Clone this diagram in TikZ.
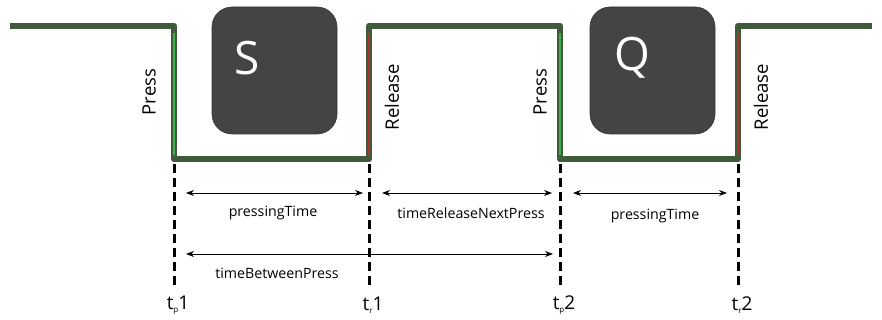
\documentclass[tikz,border=0pt]{standalone}
\usepackage{fontspec}
\setmainfont{Open Sans}
\usetikzlibrary{arrows.meta}
\definecolor{sig}{HTML}{3F5B3C}
\definecolor{pressgreen}{HTML}{3DB04A}
\definecolor{relred}{HTML}{A8342C}
\definecolor{keyfill}{HTML}{444444}
\tikzset{
  signal/.style={line width=6.5pt, draw=sig, line join=round},
  pressedge/.style={line width=2.6pt, draw=pressgreen},
  reledge/.style={line width=2.6pt, draw=relred},
  keycap/.style={draw=black!80, line width=0.6pt, fill=keyfill, rounded corners=20pt,
    minimum width=125pt, minimum height=127pt, inner sep=0pt},
  keyletter/.style={text=white, font=\fontsize{46}{46}\selectfont, inner sep=0pt},
  edgelabel/.style={rotate=90, font=\fontsize{18.5}{18.5}\selectfont, inner sep=0pt},
  marker/.style={line width=3pt, draw=black, dash pattern=on 9pt off 5pt},
  span/.style={{Stealth[length=8pt,width=6pt]}-{Stealth[length=8pt,width=6pt]}, line width=0.9pt},
  spanlabel/.style={font=\fontsize{14.2}{14.2}\selectfont, inner sep=0pt},
  ticklabel/.style={font=\fontsize{19}{19}\selectfont, inner sep=0pt}
}
\begin{document}
\begin{tikzpicture}[x=1pt, y=-1pt]
  \useasboundingbox (0,0) rectangle (882,320);

  % low and high corners of each edge
  \coordinate (tp1) at (174,159);  \coordinate (tp1h) at (174,26);
  \coordinate (tr1) at (369,159);  \coordinate (tr1h) at (369,26);
  \coordinate (tp2) at (560,159);  \coordinate (tp2h) at (560,26);
  \coordinate (tr2) at (738,159);  \coordinate (tr2h) at (738,26);
  \coordinate (start) at (10,26);
  \coordinate (finish) at (872,26);

  % key signal
  \draw[signal] (start) -- (tp1h) -- (tp1) -- (tr1) -- (tr1h) -- (tp2h)
                -- (tp2) -- (tr2) -- (tr2h) -- (finish);
  \draw[pressedge] (174,33) -- (174,155);
  \draw[reledge]   (369,33) -- (369,155);
  \draw[pressedge] (560,33) -- (560,155);
  \draw[reledge]   (738,33) -- (738,155);

  % key caps
  \node[keycap] (keyS) at (274.5,70.5) {};
  \node[keyletter] (letS) at (247,58) {S};
  \node[keycap] (keyQ) at (652.5,70.5) {};
  \node[keyletter] (letQ) at (632,58) {Q};

  % edge labels
  \node[edgelabel] (lp1) at (149,92) {Press};
  \node[edgelabel] (lr1) at (392,97) {Release};
  \node[edgelabel] (lp2) at (540,92) {Press};
  \node[edgelabel] (lr2) at (761,97) {Release};

  % time markers
  \coordinate (bp1) at (174,287);
  \coordinate (br1) at (369,287);
  \coordinate (bp2) at (560,287);
  \coordinate (br2) at (738,287);
  \draw[marker] (tp1) ++(0,5) -- (bp1);
  \draw[marker] (tr1) ++(0,5) -- (br1);
  \draw[marker] (tp2) ++(0,5) -- (bp2);
  \draw[marker] (tr2) ++(0,5) -- (br2);

  \node[ticklabel] (ltp1) at (178,305) {t\raisebox{-0.35ex}{\fontsize{8}{8}\selectfont p}1};
  \node[ticklabel] (ltr1) at (373,305) {t\raisebox{-0.35ex}{\fontsize{8}{8}\selectfont r}1};
  \node[ticklabel] (ltp2) at (564,305) {t\raisebox{-0.35ex}{\fontsize{8}{8}\selectfont p}2};
  \node[ticklabel] (ltr2) at (742,305) {t\raisebox{-0.35ex}{\fontsize{8}{8}\selectfont r}2};

  % spans
  \coordinate (a1) at (186,193);  \coordinate (a2) at (363,193);
  \coordinate (b1) at (382,193);  \coordinate (b2) at (552,193);
  \coordinate (c1) at (573,193);  \coordinate (c2) at (727,193);
  \coordinate (d1) at (186,254);  \coordinate (d2) at (553,254);
  \draw[span] (a1) -- (a2);
  \draw[span] (b1) -- (b2);
  \draw[span] (c1) -- (c2);
  \draw[span] (d1) -- (d2);
  \node[spanlabel] (s1) at (273,213) {pressingTime};
  \node[spanlabel] (s2) at (471,213) {timeReleaseNextPress};
  \node[spanlabel] (s3) at (655,216) {pressingTime};
  \node[spanlabel] (s4) at (277,273) {timeBetweenPress};
\end{tikzpicture}
\end{document}
